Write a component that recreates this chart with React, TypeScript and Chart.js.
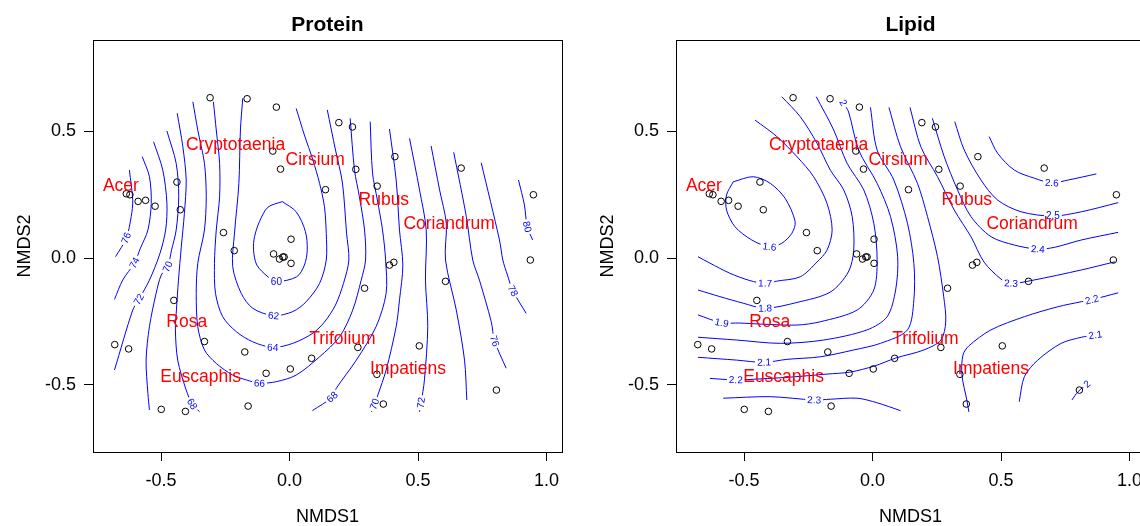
import React, { useEffect, useRef } from "react";
import { Chart, registerables } from "chart.js";
Chart.register(...registerables);

const FONT = '"Liberation Sans", Arial, Helvetica, sans-serif';

// ---- site scores (NMDS1, NMDS2) ----
const siteX = [-0.309, -0.165, -0.051, -0.065, -0.035, 0.14, -0.438, -0.635, -0.621, -0.589, -0.56, -0.523, -0.425, -0.257, -0.215, 0.006, -0.062, -0.039, -0.026, -0.021, 0.006, 0.192, 0.245, 0.41, 0.668, 0.258, 0.341, 0.949, 0.937, 0.389, 0.406, 0.292, 0.607, 0.086, 0.266, 0.505, 0.34, 0.365, 0.805, -0.45, -0.68, -0.626, -0.331, -0.174, -0.091, 0.003, -0.499, -0.405, -0.161];
const siteY = [0.631, 0.627, 0.594, 0.421, 0.35, 0.269, 0.299, 0.253, 0.249, 0.223, 0.227, 0.204, 0.19, 0.1, 0.029, 0.074, 0.016, -0.004, 0.004, 0.004, -0.021, 0.533, 0.516, 0.399, 0.354, 0.349, 0.283, 0.249, -0.008, -0.028, -0.017, -0.119, -0.092, -0.395, -0.352, -0.346, -0.458, -0.575, -0.52, -0.167, -0.341, -0.358, -0.329, -0.37, -0.454, -0.437, -0.596, -0.604, -0.583];

// ---- species labels ----
const speciesNames = ["Acer", "Cryptotaenia", "Cirsium", "Rubus", "Coriandrum", "Rosa", "Euscaphis", "Trifolium", "Impatiens"];
const speciesX = [-0.656, -0.21, 0.1, 0.367, 0.621, -0.4, -0.346, 0.206, 0.461];
const speciesY = [0.283, 0.445, 0.386, 0.228, 0.134, -0.251, -0.47, -0.319, -0.436];

// ---- axes ----
const xTicks = [-0.5, 0, 0.5, 1.0];
const yTicks = [-0.5, 0, 0.5];
const xRange = [-0.7646, 1.0603];
const yRange = [-0.7638, 0.8583];

type Pt = [number, number];

// ---- Protein contours ----
const p60: Pt[] = [[-0.028, 0.222], [0.026, 0.182], [0.062, 0.104], [0.069, 0.031], [0.058, -0.028], [0.028, -0.074], [-0.051, -0.093], [-0.084, -0.074], [-0.127, -0.028], [-0.14, 0.031], [-0.136, 0.084], [-0.117, 0.143], [-0.084, 0.2], [-0.028, 0.222]];
const p62: Pt[] = [[-0.182, 0.629], [-0.191, 0.504], [-0.197, 0.294], [-0.214, 0.098], [-0.221, -0.034], [-0.188, -0.139], [-0.143, -0.198], [-0.062, -0.227], [0.013, -0.211], [0.065, -0.172], [0.117, -0.1], [0.143, -0.008], [0.143, 0.097], [0.136, 0.202], [0.117, 0.294], [0.091, 0.386], [0.058, 0.484], [0.026, 0.589]];
const p64: Pt[] = [[-0.296, 0.615], [-0.285, 0.504], [-0.272, 0.373], [-0.272, 0.241], [-0.285, 0.11], [-0.292, -0.021], [-0.288, -0.139], [-0.26, -0.231], [-0.207, -0.29], [-0.143, -0.33], [-0.065, -0.352], [0.013, -0.336], [0.091, -0.296], [0.136, -0.252], [0.179, -0.185], [0.21, -0.1], [0.231, -0.008], [0.222, 0.098], [0.206, 0.295], [0.179, 0.425], [0.147, 0.583]];
const p66: Pt[] = [[-0.376, 0.615], [-0.357, 0.504], [-0.331, 0.373], [-0.324, 0.241], [-0.331, 0.11], [-0.357, -0.021], [-0.363, -0.139], [-0.357, -0.27], [-0.331, -0.362], [-0.285, -0.415], [-0.221, -0.461], [-0.168, -0.48], [-0.117, -0.493], [-0.052, -0.487], [0.026, -0.461], [0.117, -0.389], [0.195, -0.31], [0.246, -0.205], [0.279, -0.087], [0.296, -0.008], [0.292, 0.11], [0.272, 0.241], [0.253, 0.346], [0.236, 0.55]];
const p68a: Pt[] = [[-0.437, 0.57], [-0.415, 0.438], [-0.402, 0.307], [-0.409, 0.176], [-0.421, 0.044], [-0.432, -0.087], [-0.44, -0.205], [-0.444, -0.283], [-0.435, -0.402], [-0.402, -0.52], [-0.379, -0.575], [-0.35, -0.605]];
const p68b: Pt[] = [[0.089, -0.601], [0.166, -0.548], [0.182, -0.513], [0.26, -0.402], [0.337, -0.27], [0.376, -0.139], [0.374, -0.008], [0.362, 0.11], [0.342, 0.228], [0.323, 0.335], [0.314, 0.537]];
const p70a: Pt[] = [[-0.477, 0.5], [-0.441, 0.373], [-0.431, 0.241], [-0.441, 0.11], [-0.459, 0.031], [-0.474, -0.034], [-0.499, -0.067], [-0.519, -0.139], [-0.545, -0.27], [-0.558, -0.402], [-0.551, -0.533], [-0.545, -0.598]];
const p70b: Pt[] = [[0.389, 0.508], [0.415, 0.307], [0.428, 0.11], [0.441, -0.028], [0.428, -0.165], [0.415, -0.27], [0.376, -0.441], [0.344, -0.539], [0.331, -0.575], [0.319, -0.606]];
const p72a: Pt[] = [[-0.529, 0.458], [-0.493, 0.346], [-0.477, 0.215], [-0.482, 0.11], [-0.506, 0.012], [-0.545, -0.087], [-0.586, -0.163], [-0.61, -0.205], [-0.681, -0.441]];
const p72b: Pt[] = [[0.467, 0.471], [0.506, 0.268], [0.532, 0.11], [0.529, -0.087], [0.538, -0.27], [0.525, -0.48], [0.512, -0.57], [0.506, -0.606]];
const p74a: Pt[] = [[-0.573, 0.399], [-0.545, 0.32], [-0.538, 0.215], [-0.551, 0.11], [-0.58, 0.039], [-0.603, -0.019], [-0.649, -0.087], [-0.681, -0.163]];
const p74b: Pt[] = [[0.551, 0.441], [0.584, 0.268], [0.61, 0.137], [0.607, -0.008], [0.649, -0.205], [0.681, -0.402], [0.69, -0.559]];
const p76a: Pt[] = [[-0.623, 0.346], [-0.61, 0.228], [-0.616, 0.163], [-0.635, 0.078], [-0.677, 0.005]];
const p76b: Pt[] = [[0.639, 0.416], [0.688, 0.163], [0.713, -0.008], [0.739, -0.087], [0.785, -0.251], [0.798, -0.327], [0.843, -0.434]];
const p78: Pt[] = [[0.746, 0.375], [0.817, 0.071], [0.83, -0.008], [0.848, -0.067], [0.869, -0.129], [0.921, -0.218]];
const p80: Pt[] = [[0.891, 0.307], [0.914, 0.209], [0.925, 0.123], [0.946, 0.071]];

// ---- Lipid contours ----
const l16: Pt[] = [[-0.542, 0.3], [-0.464, 0.32], [-0.398, 0.294], [-0.34, 0.235], [-0.301, 0.143], [-0.314, 0.097], [-0.353, 0.058], [-0.401, 0.044], [-0.47, 0.071], [-0.535, 0.123], [-0.568, 0.189], [-0.568, 0.248], [-0.542, 0.3]];
const l17: Pt[] = [[-0.457, 0.543], [-0.372, 0.478], [-0.294, 0.399], [-0.229, 0.32], [-0.177, 0.215], [-0.157, 0.11], [-0.177, 0.031], [-0.216, -0.016], [-0.281, -0.074], [-0.372, -0.091], [-0.418, -0.1], [-0.477, -0.089], [-0.555, -0.06], [-0.633, -0.02], [-0.679, 0.005]];
const l18: Pt[] = [[-0.353, 0.635], [-0.281, 0.556], [-0.216, 0.452], [-0.164, 0.346], [-0.112, 0.268], [-0.079, 0.163], [-0.073, 0.031], [-0.094, -0.055], [-0.164, -0.134], [-0.294, -0.175], [-0.418, -0.198], [-0.503, -0.178], [-0.594, -0.152], [-0.679, -0.126]];
const l19: Pt[] = [[-0.219, 0.635], [-0.151, 0.504], [-0.099, 0.373], [-0.034, 0.268], [0.005, 0.137], [0.018, -0.008], [0.005, -0.126], [-0.06, -0.205], [-0.203, -0.251], [-0.294, -0.264], [-0.438, -0.26], [-0.516, -0.256], [-0.587, -0.255], [-0.679, -0.224]];
const l20a: Pt[] = [[-0.114, 0.611], [-0.093, 0.575], [-0.054, 0.425], [0.018, 0.294], [0.07, 0.163], [0.098, 0.005], [0.09, -0.126], [0.057, -0.231], [-0.021, -0.283], [-0.19, -0.323], [-0.359, -0.336], [-0.529, -0.323], [-0.679, -0.312]];
const l20b: Pt[] = [[0.776, -0.559], [0.8, -0.526], [0.835, -0.496]];
const l21a: Pt[] = [[-0.008, 0.593], [0.018, 0.425], [0.083, 0.307], [0.136, 0.137], [0.161, -0.021], [0.161, -0.165], [0.136, -0.283], [0.031, -0.336], [-0.073, -0.362], [-0.203, -0.389], [-0.333, -0.399], [-0.422, -0.411], [-0.529, -0.402], [-0.679, -0.391]];
const l21b: Pt[] = [[0.571, -0.566], [0.591, -0.467], [0.643, -0.402], [0.734, -0.336], [0.813, -0.312], [0.867, -0.303]];
const l22a: Pt[] = [[0.064, 0.593], [0.109, 0.438], [0.175, 0.294], [0.214, 0.163], [0.253, 0.005], [0.277, -0.152], [0.285, -0.252], [0.266, -0.323], [0.2, -0.362], [0.09, -0.394], [0.008, -0.425], [-0.086, -0.449], [-0.177, -0.457], [-0.32, -0.469], [-0.438, -0.476], [-0.532, -0.48], [-0.633, -0.474]];
const l22b: Pt[] = [[0.375, -0.606], [0.367, -0.559], [0.348, -0.461], [0.352, -0.382], [0.375, -0.346], [0.461, -0.283], [0.591, -0.231], [0.721, -0.192], [0.813, -0.172], [0.854, -0.164], [0.956, -0.137]];
const l23a: Pt[] = [[0.146, 0.593], [0.188, 0.438], [0.253, 0.32], [0.318, 0.189], [0.383, 0.084], [0.434, -0.016], [0.5, -0.083], [0.539, -0.1], [0.617, -0.089], [0.813, -0.047], [0.943, -0.015]];
const l23b: Pt[] = [[-0.581, -0.552], [-0.398, -0.546], [-0.227, -0.559], [-0.164, -0.556], [-0.06, -0.552], [0.018, -0.57], [0.109, -0.601]];
const l24: Pt[] = [[0.233, 0.55], [0.279, 0.399], [0.331, 0.268], [0.383, 0.163], [0.461, 0.084], [0.552, 0.051], [0.643, 0.035], [0.708, 0.042], [0.813, 0.071], [0.956, 0.101]];
const l25: Pt[] = [[0.32, 0.537], [0.357, 0.425], [0.422, 0.307], [0.487, 0.228], [0.578, 0.182], [0.702, 0.165], [0.813, 0.182], [0.956, 0.218]];
const l26: Pt[] = [[0.454, 0.478], [0.487, 0.412], [0.552, 0.346], [0.63, 0.314], [0.698, 0.296], [0.761, 0.307], [0.871, 0.331]];

interface Piece { level: string; pts: Pt[]; label: number }

const proteinPieces: Piece[] = [
  { level: "60", pts: p60, label: 6 },
  { level: "62", pts: p62, label: 7 },
  { level: "64", pts: p64, label: 10 },
  { level: "66", pts: p66, label: 12 },
  { level: "68", pts: p68a, label: 10 },
  { level: "68", pts: p68b, label: 1 },
  { level: "70", pts: p70a, label: 5 },
  { level: "70", pts: p70b, label: 8 },
  { level: "72", pts: p72a, label: 6 },
  { level: "72", pts: p72b, label: 6 },
  { level: "74", pts: p74a, label: 5 },
  { level: "74", pts: p74b, label: -1 },
  { level: "76", pts: p76a, label: 3 },
  { level: "76", pts: p76b, label: 5 },
  { level: "78", pts: p78, label: 4 },
  { level: "80", pts: p80, label: 2 },
];

const lipidPieces: Piece[] = [
  { level: "1.6", pts: l16, label: 7 },
  { level: "1.7", pts: l17, label: 10 },
  { level: "1.8", pts: l18, label: 10 },
  { level: "1.9", pts: l19, label: 12 },
  { level: "2", pts: l20a, label: 0 },
  { level: "2", pts: l20b, label: 2 },
  { level: "2.1", pts: l21a, label: 11 },
  { level: "2.1", pts: l21b, label: 5 },
  { level: "2.2", pts: l22a, label: 15 },
  { level: "2.2", pts: l22b, label: 9 },
  { level: "2.3", pts: l23a, label: 7 },
  { level: "2.3", pts: l23b, label: 2 },
  { level: "2.4", pts: l24, label: 6 },
  { level: "2.5", pts: l25, label: 5 },
  { level: "2.6", pts: l26, label: 4 },
];

const contourLabelPlugin = {
  id: "contourLabels",
  beforeDatasetDraw(chart: any, args: any) {
    if (args.index !== 0) return;
    const ctx = chart.ctx;
    chart.data.datasets.forEach((ds: any, i: number) => {
      const info = ds.contourLabel;
      if (!info || info.idx < 0) return;
      const els = chart.getDatasetMeta(i).data;
      const k = info.idx;
      const p = els[k];
      const a = els[Math.max(0, k - 1)];
      const b = els[Math.min(els.length - 1, k + 1)];
      let ang = Math.atan2(b.y - a.y, b.x - a.x);
      if (ang > Math.PI / 2) ang -= Math.PI;
      if (ang < -Math.PI / 2) ang += Math.PI;
      ctx.save();
      ctx.translate(p.x, p.y);
      ctx.rotate(ang);
      ctx.font = `10px ${FONT}`;
      const w = ctx.measureText(info.text).width;
      ctx.fillStyle = "#ffffff";
      ctx.fillRect(-w / 2 - 2, -5.5, w + 4, 11);
      ctx.fillStyle = "#0000ff";
      ctx.textAlign = "center";
      ctx.textBaseline = "middle";
      ctx.fillText(info.text, 0, 0.5);
      ctx.restore();
    });
  },
};

const decorPlugin = {
  id: "decor",
  afterDatasetsDraw(chart: any) {
    const ctx = chart.ctx;
    const ca = chart.chartArea;
    const xs = chart.scales.x;
    const ys = chart.scales.y;
    ctx.save();
    ctx.fillStyle = "#ff0000";
    ctx.font = `17.5px ${FONT}`;
    ctx.textAlign = "center";
    ctx.textBaseline = "middle";
    speciesNames.forEach((n, i) => {
      ctx.fillText(n, xs.getPixelForValue(speciesX[i]), ys.getPixelForValue(speciesY[i]));
    });
    ctx.strokeStyle = "#000";
    ctx.lineWidth = 1;
    ctx.strokeRect(Math.round(ca.left) + 0.5, Math.round(ca.top) + 0.5, Math.round(ca.right - ca.left), Math.round(ca.bottom - ca.top));
    const cx = (ca.left + ca.right) / 2;
    const cy = (ca.top + ca.bottom) / 2;
    ctx.fillStyle = "#000";
    ctx.font = `bold 21px ${FONT}`;
    ctx.fillText(chart.options.plugins.decor.title, cx, 25);
    ctx.font = `18px ${FONT}`;
    ctx.fillText("NMDS1", cx, 517);
    ctx.translate(25, cy);
    ctx.rotate(-Math.PI / 2);
    ctx.fillText("NMDS2", 0, 0);
    ctx.restore();
  },
};

function makeConfig(title: string, pieces: Piece[]): any {
  const datasets: any[] = [
    {
      data: siteX.map((x, i) => ({ x, y: siteY[i] })),
      showLine: false,
      pointRadius: 3.3,
      pointBorderWidth: 1,
      pointBorderColor: "#000",
      pointBackgroundColor: "rgba(0,0,0,0)",
    },
    ...pieces.map((p) => ({
      data: p.pts.map(([x, y]) => ({ x, y })),
      showLine: true,
      borderColor: "#0000ff",
      borderWidth: 1,
      pointRadius: 0,
      tension: 0.3,
      fill: false,
      contourLabel: { text: p.level, idx: p.label },
    })),
  ];
  const tickFont = { family: FONT, size: 18 };
  return {
    type: "scatter",
    data: { datasets },
    options: {
      animation: false,
      responsive: false,
      events: [],
      layout: { padding: { left: 0, top: 40, right: 21, bottom: 0 } },
      plugins: { legend: { display: false }, tooltip: { enabled: false }, decor: { title } },
      scales: {
        x: {
          type: "linear",
          min: xRange[0],
          max: xRange[1],
          afterBuildTicks: (s: any) => { s.ticks = xTicks.map((v) => ({ value: v })); },
          afterFit: (s: any) => { s.height = 74; },
          ticks: { font: tickFont, color: "#000", padding: 9, autoSkip: false, maxRotation: 0, callback: (v: any) => Number(v).toFixed(1) },
          grid: { display: true, drawOnChartArea: false, drawTicks: true, tickLength: 9, color: "#000", lineWidth: 1 },
          border: { display: false },
        },
        y: {
          type: "linear",
          min: yRange[0],
          max: yRange[1],
          afterBuildTicks: (s: any) => { s.ticks = yTicks.map((v) => ({ value: v })); },
          afterFit: (s: any) => { s.width = 93; },
          ticks: { font: tickFont, color: "#000", padding: 8, autoSkip: false, callback: (v: any) => Number(v).toFixed(1) },
          grid: { display: true, drawOnChartArea: false, drawTicks: true, tickLength: 9, color: "#000", lineWidth: 1 },
          border: { display: false },
        },
      },
    },
    plugins: [contourLabelPlugin, decorPlugin],
  };
}

function Panel({ title, pieces, left }: { title: string; pieces: Piece[]; left: number }) {
  const ref = useRef<HTMLCanvasElement | null>(null);
  useEffect(() => {
    if (!ref.current) return;
    const chart = new Chart(ref.current, makeConfig(title, pieces));
    return () => chart.destroy();
  }, [title, pieces]);
  return (
    <canvas
      ref={ref}
      width={583}
      height={526}
      style={{ position: "absolute", left, top: 0, width: 583, height: 526 }}
    />
  );
}

export default function App() {
  useEffect(() => {
    document.body.style.margin = "0";
  }, []);
  return (
    <div style={{ position: "absolute", left: 0, top: 0, width: 1140, height: 526, overflow: "hidden", background: "#fff" }}>
      <Panel title="Protein" pieces={proteinPieces} left={0} />
      <Panel title="Lipid" pieces={lipidPieces} left={583} />
    </div>
  );
}
